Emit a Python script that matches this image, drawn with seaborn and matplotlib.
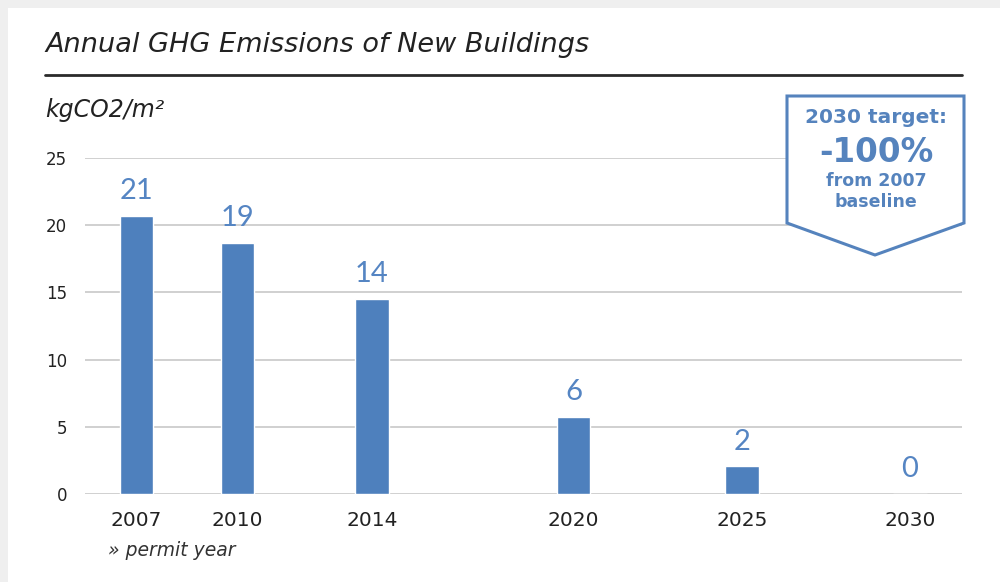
import pandas as pd
import numpy as np
import matplotlib.pyplot as plt
import seaborn as sns
from matplotlib.patches import Polygon, Rectangle
from matplotlib.lines import Line2D

# data
years = [2007, 2010, 2014, 2020, 2025, 2030]
emissions = [20.7, 18.7, 14.5, 5.75, 2.05, 0.0]
value_labels = ["21", "19", "14", "6", "2", "0"]
y_ticks = [0, 5, 10, 15, 20, 25]

df = pd.DataFrame({"year": years, "value": emissions})

sns.set_theme(style="whitegrid")
plt.rcParams['font.family'] = ['DejaVu Sans']

bar_blue = "#4e80bd"
label_blue = "#5585c3"
box_blue = "#5583bd"

W, H = 1000, 582
fig = plt.figure(figsize=(10, 5.82), dpi=100, facecolor="#efefef")

# white card on grey page
fig.patches.append(Rectangle((8 / W, 0), 1, 1 - 8 / H, transform=fig.transFigure,
                             facecolor="white", edgecolor="none", zorder=-5))

ax = fig.add_axes([85 / W, 1 - 494 / H, (962 - 85) / W, (494 - 158) / H])
ax.set_zorder(1)
ax.set_facecolor("none")

sns.barplot(data=df, x="year", y="value", native_scale=True, width=1 / 3,
            color=bar_blue, saturation=1, ax=ax)

ax.set_xlim(2005.47, 2031.55)
ax.set_ylim(0, 25)
ax.set_xticks(years)
ax.set_xticklabels([str(y) for y in years])
ax.set_yticks(y_ticks)
ax.set_xlabel("")
ax.set_ylabel("")
for s in ax.spines.values():
    s.set_visible(False)
ax.grid(axis="x", visible=False)
ax.grid(axis="y", color="#c8c8c8", linewidth=1.2)
ax.set_axisbelow(True)
ax.tick_params(axis="x", length=0, pad=12, labelsize=14.5, labelcolor="#222222")
ax.tick_params(axis="y", length=0, pad=13, labelsize=12, labelcolor="#222222")

for x, v, lab in zip(years, emissions, value_labels):
    ax.annotate(lab, (x, v), xytext=(0, 12), textcoords="offset points",
                ha="center", va="baseline", fontsize=21, color=label_blue,
                family="Lato")

# header
fig.text(45 / W, 1 - 45 / H, "Annual GHG Emissions of New Buildings", fontsize=19.5,
         style="italic", color="#222222", va="center", ha="left")
fig.lines.append(Line2D([45 / W, 962 / W], [1 - 75 / H, 1 - 75 / H], transform=fig.transFigure,
                        color="#2a2a2a", linewidth=2))
fig.text(45 / W, 1 - 110 / H, "kgCO2/m²", fontsize=17, style="italic",
         color="#222222", va="center", ha="left")
fig.text(108 / W, 1 - 551 / H, "» permit year", fontsize=13.5, style="italic",
         color="#333333", va="center", ha="left")

# target badge
pts = [(787, 96), (964, 96), (964, 223), (875, 255), (787, 223)]
fig.patches.append(Polygon([(px / W, 1 - py / H) for px, py in pts], closed=True,
                           transform=fig.transFigure, facecolor="white",
                           edgecolor=box_blue, linewidth=2.2, zorder=3))
cx = 876 / W
fig.text(cx, 1 - 118 / H, "2030 target:", fontsize=14.5, fontweight="bold",
         color=box_blue, ha="center", va="center", zorder=4)
fig.text(cx, 1 - 153 / H, "-100%", fontsize=23.5, fontweight="bold",
         color=box_blue, ha="center", va="center", zorder=4)
fig.text(cx, 1 - 181 / H, "from 2007", fontsize=12.5, fontweight="bold",
         color=box_blue, ha="center", va="center", zorder=4)
fig.text(cx, 1 - 202 / H, "baseline", fontsize=12.5, fontweight="bold",
         color=box_blue, ha="center", va="center", zorder=4)

fig.savefig("out.png", dpi=100, facecolor=fig.get_facecolor())
